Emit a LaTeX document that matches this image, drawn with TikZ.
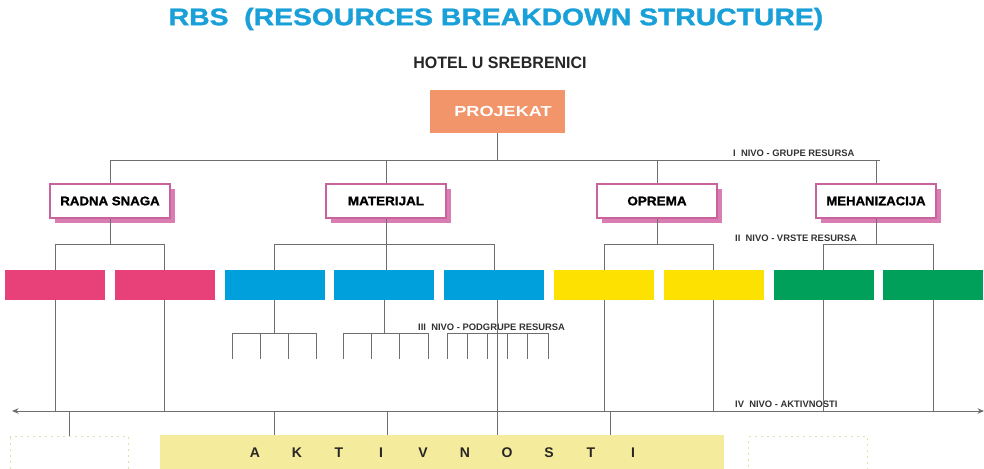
\documentclass[tikz,border=0pt]{standalone}
\usepackage{fontspec}
\setmainfont{Liberation Sans}
\newfontfamily\heavyfont[BoldFont={Liberation Sans Bold}, BoldFeatures={FakeBold=1.2}]{Liberation Sans}
\usetikzlibrary{calc,shadows,arrows.meta}
\definecolor{titleblue}{HTML}{1AA0D8}
\definecolor{projorange}{HTML}{F2956B}
\definecolor{pinkborder}{HTML}{C8649B}
\definecolor{pinkshadow}{HTML}{D97DB3}
\definecolor{rpink}{HTML}{E8417A}
\definecolor{rblue}{HTML}{00A0DC}
\definecolor{ryellow}{HTML}{FDE100}
\definecolor{rgreen}{HTML}{00A05A}
\definecolor{akty}{HTML}{F4EC9C}
\definecolor{dotc}{HTML}{DDE3A6}
\definecolor{linegray}{HTML}{6E6E6E}
\definecolor{labgray}{HTML}{333333}
\tikzset{
  conn/.style={draw=linegray, line width=0.9pt},
  lvlone/.style={rectangle, draw=pinkborder, line width=1.3pt, fill=white,
    minimum width=120pt, minimum height=34pt, inner sep=0pt,
    drop shadow={shadow xshift=4.5pt, shadow yshift=-5pt, fill=pinkshadow, opacity=1},
    font=\heavyfont\fontsize{12.5}{12.5}\selectfont\bfseries},
  resbox/.style={rectangle, minimum width=100pt, minimum height=30pt, inner sep=0pt, draw=none},
  nivo/.style={anchor=west, inner sep=0pt, text=labgray, font=\fontsize{9.4}{9.4}\selectfont\bfseries},
  dotbox/.style={draw=dotc, line width=1.4pt, dash pattern=on 2pt off 4pt}
}
\begin{document}
\begin{tikzpicture}[x=1pt,y=-1pt]
\useasboundingbox (0,0) rectangle (984,468);
% titles
\node[inner sep=0pt, text=titleblue, font=\heavyfont\fontsize{24}{24}\selectfont\bfseries] (title) at (496,19)
  {\scalebox{1.18}[1]{RBS\ \ (RESOURCES BREAKDOWN STRUCTURE)}};
\node[inner sep=0pt, text=black!85, font=\fontsize{16.5}{16.5}\selectfont\bfseries] (hotel) at (500,63) {\scalebox{0.97}[1]{HOTEL U SREBRENICI}};
% project
\node[rectangle, fill=projorange, minimum width=135pt, minimum height=43pt, inner sep=0pt] (proj) at (497.5,111.5) {};
\node[inner sep=0pt, text=white, font=\fontsize{14.5}{14.5}\selectfont\bfseries] (projt) at (503,112) {\scalebox{1.25}[1]{PROJEKAT}};
% level 1
\node[lvlone] (rs) at (110,201) {\scalebox{1.06}[1]{RADNA SNAGA}};
\node[lvlone] (ma) at (386,201) {\scalebox{1.08}[1]{MATERIJAL}};
\node[lvlone] (op) at (657,201) {\scalebox{1.08}[1]{OPREMA}};
\node[lvlone] (me) at (876,201) {\scalebox{1.05}[1]{MEHANIZACIJA}};
% level 2 boxes
\node[resbox, fill=rpink]   (p1) at (55,285) {};
\node[resbox, fill=rpink]   (p2) at (164.8,285) {};
\node[resbox, fill=rblue]   (b1) at (274.6,285) {};
\node[resbox, fill=rblue]   (b2) at (384.4,285) {};
\node[resbox, fill=rblue]   (b3) at (494.2,285) {};
\node[resbox, fill=ryellow] (y1) at (604,285) {};
\node[resbox, fill=ryellow] (y2) at (713.8,285) {};
\node[resbox, fill=rgreen]  (g1) at (823.6,285) {};
\node[resbox, fill=rgreen]  (g2) at (933.4,285) {};
% activities
\node[rectangle, fill=akty, minimum width=564pt, minimum height=40pt, inner sep=0pt, anchor=north west] (akt) at (160,435) {};
\node[inner sep=0pt, text=black!85, font=\fontsize{14}{14}\selectfont\bfseries] (aktt) at (444,453)
  {\makebox[42pt]{A}\makebox[42pt]{K}\makebox[42pt]{T}\makebox[42pt]{I}\makebox[42pt]{V}\makebox[42pt]{N}\makebox[42pt]{O}\makebox[42pt]{S}\makebox[42pt]{T}\makebox[42pt]{I}};
\node[rectangle, dotbox, minimum width=118pt, minimum height=40pt, inner sep=0pt, anchor=north west] (dl) at (10,436) {};
\node[rectangle, dotbox, minimum width=119pt, minimum height=40pt, inner sep=0pt, anchor=north west] (dr) at (748,436) {};
% level labels
\node[nivo] (n1) at (733,153) {I\ \ NIVO - GRUPE RESURSA};
\node[nivo] (n2) at (735,238) {II\ \ NIVO - VRSTE RESURSA};
\node[nivo] (n3) at (418,327) {III\ \ NIVO - PODGRUPE RESURSA};
\node[nivo] (n4) at (735,404) {IV\ \ NIVO - AKTIVNOSTI};
% level 1 connectors
\coordinate (bus1) at (497.5,160);
\coordinate (bus1r) at (880,160);
\draw[conn] (proj.south) -- (bus1);
\draw[conn] (rs.north) |- (bus1r);
\draw[conn] (ma.north) -- (ma.north |- bus1);
\draw[conn] (op.north) -- (op.north |- bus1);
\draw[conn] (me.north) -- (me.north |- bus1);
% level 2 connectors
\draw[conn] (rs.south) -- ++(0,26) coordinate (h1);
\draw[conn] (p1.north) |- (h1) -| (p2.north);
\draw[conn] (ma.south) -- (ma.south |- b2.north);
\draw[conn] (b1.north) |- (ma.south |- h1) -| (b3.north);
\draw[conn] (op.south) -- ++(0,26) coordinate (h3);
\draw[conn] (y1.north) |- (h3) -| (y2.north);
\draw[conn] (me.south) -- ++(0,26) coordinate (h4);
\draw[conn] (g1.north) |- (h4) -| (g2.north);
% level 3 connectors
\draw[conn] (b1.south) -- ++(0,33) coordinate (s1);
\draw[conn] ($(s1)+(-42,0)$) -- ($(s1)+(42,0)$);
\foreach \dx in {-42,-14,14,42} \draw[conn] ($(s1)+(\dx,0)$) -- ++(0,26);
\draw[conn] (b2.south) -- ++(0,33) coordinate (s2);
\draw[conn] ($(s2)+(-41.4,0)$) -- ($(s2)+(43.6,0)$);
\foreach \dx in {-41.4,-13.1,15.3,43.6} \draw[conn] ($(s2)+(\dx,0)$) -- ++(0,26);
\coordinate (s3) at (497.5,333);
\draw[conn] ($(s3)+(-50.5,0)$) -- ($(s3)+(50.5,0)$);
\foreach \dx in {-50.5,-30.3,-10.1,10.1,30.3,50.5} \draw[conn] ($(s3)+(\dx,0)$) -- ++(0,26);
\coordinate (b3d) at (497,300);
\draw[conn] (b3d) -- (b3d |- akt.north);
% level 4 axis
\coordinate (axl) at (12,411);
\coordinate (axr) at (984,411);
\draw[conn, {Stealth[length=6.5pt,width=5.5pt]}-{Stealth[length=6.5pt,width=5.5pt]}] (axl) -- (axr);
\foreach \n in {p1,p2,y1,y2,g1,g2} \draw[conn] (\n.south) -- (\n.south |- axl);
\draw[conn] (dl.north -| 69,0) -- (69,411);
\draw[conn] (akt.north -| b1) -- (b1 |- axl);
\draw[conn] (akt.north -| 387,0) -- (387,411);
\draw[conn] (akt.north -| 610,0) -- (610,411);
\end{tikzpicture}
\end{document}
